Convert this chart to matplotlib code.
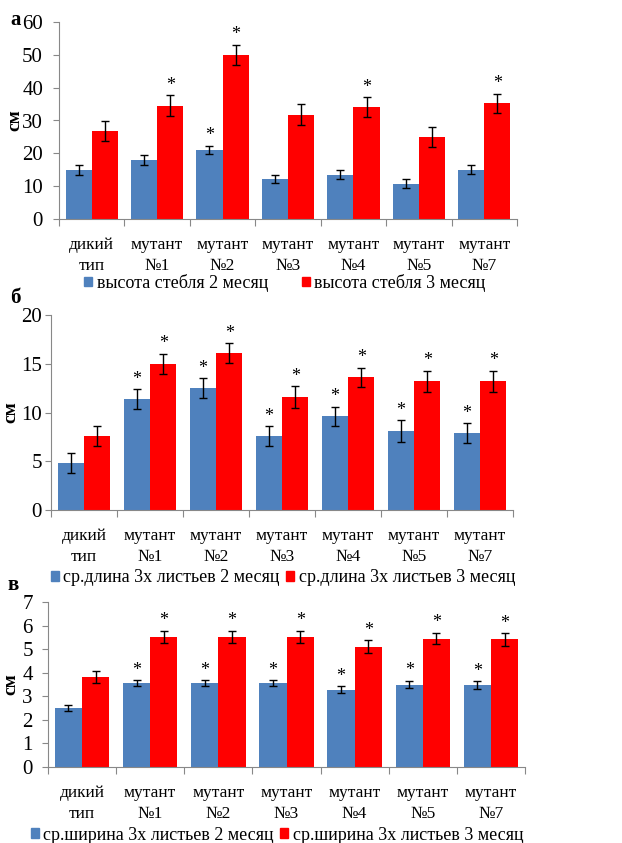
import matplotlib
matplotlib.use("Agg")
import matplotlib.pyplot as plt
import numpy as np
from matplotlib.patches import Patch

plt.rcParams['font.family'] = ['Liberation Serif', 'DejaVu Serif']

categories = ["дикий\nтип", "мутант\n№1", "мутант\n№2", "мутант\n№3", "мутант\n№4", "мутант\n№5", "мутант\n№7"]

# Panel a: stem height
a_m2 = [15.0, 18.0, 21.0, 12.2, 13.5, 10.8, 15.0]
a_m2_err = [1.5, 1.5, 1.3, 1.3, 1.3, 1.3, 1.4]
a_m3 = [26.7, 34.5, 50.0, 31.8, 34.1, 25.0, 35.2]
a_m3_err = [3.0, 3.2, 3.0, 3.2, 3.0, 3.0, 3.0]
a_m2_star = [0, 0, 1, 0, 0, 0, 0]
a_m3_star = [0, 1, 1, 0, 1, 0, 1]

# Panel b: mean length of 3 leaves
b_m2 = [4.8, 11.4, 12.5, 7.6, 9.6, 8.1, 7.9]
b_m2_err = [1.0, 1.0, 1.0, 1.0, 1.0, 1.1, 1.0]
b_m3 = [7.6, 15.0, 16.1, 11.6, 13.6, 13.2, 13.2]
b_m3_err = [1.0, 1.0, 1.0, 1.1, 1.0, 1.1, 1.1]
b_m2_star = [0, 1, 1, 1, 1, 1, 1]
b_m3_star = [0, 1, 1, 1, 1, 1, 1]

# Panel c: mean width of 3 leaves
c_m2 = [2.5, 3.55, 3.55, 3.55, 3.28, 3.5, 3.48]
c_m2_err = [0.13, 0.13, 0.13, 0.13, 0.15, 0.16, 0.15]
c_m3 = [3.82, 5.52, 5.52, 5.52, 5.1, 5.45, 5.42]
c_m3_err = [0.27, 0.27, 0.27, 0.27, 0.27, 0.25, 0.27]
c_m2_star = [0, 1, 1, 1, 1, 1, 1]
c_m3_star = [0, 1, 1, 1, 1, 1, 1]

W, H = 622, 843

panels = [
    dict(label="а", labxy=(10, 20), m2=a_m2, e2=a_m2_err, m3=a_m3, e3=a_m3_err, s2=a_m2_star, s3=a_m3_star,
         ymax=60, step=10, px=(59, 22, 517, 219), ypad=7.5, ylabx=23,
         leg=["высота стебля 2 месяц", "высота стебля 3 месяц"], legxy=(285, 283), colsp=1.85),
    dict(label="б", labxy=(10, 298), m2=b_m2, e2=b_m2_err, m3=b_m3, e3=b_m3_err, s2=b_m2_star, s3=b_m3_star,
         ymax=20, step=5, px=(51, 315, 513, 510), ypad=2.5, ylabx=19,
         leg=["ср.длина 3х листьев 2 месяц", "ср.длина 3х листьев 3 месяц"], legxy=(283, 578), colsp=0.35),
    dict(label="в", labxy=(7, 585), m2=c_m2, e2=c_m2_err, m3=c_m3, e3=c_m3_err, s2=c_m2_star, s3=c_m3_star,
         ymax=7, step=1, px=(48, 602, 525, 767), ypad=7, ylabx=19,
         leg=["ср.ширина 3х листьев 2 месяц", "ср.ширина 3х листьев 3 месяц"], legxy=(277, 835), colsp=0.35),
]

blue = "#4F81BD"
red = "#FF0000"
fig = plt.figure(figsize=(W / 100, H / 100), dpi=100)
x = np.arange(len(categories))
w = 0.4

for p in panels:
    l, t, r, b = p["px"]
    ax = fig.add_axes([l / W, 1 - b / H, (r - l) / W, (b - t) / H])
    ax.bar(x - w/2, p["m2"], w, color=blue, yerr=p["e2"], capsize=3,
           error_kw=dict(ecolor="black", elinewidth=1, capthick=1))
    ax.bar(x + w/2, p["m3"], w, color=red, yerr=p["e3"], capsize=3,
           error_kw=dict(ecolor="black", elinewidth=1, capthick=1))
    off = p["ymax"] * 0.008
    for i in range(len(categories)):
        if p["s2"][i]:
            ax.text(x[i] - w/2, p["m2"][i] + p["e2"][i] + off, "*", ha="center", va="bottom", fontsize=13)
        if p["s3"][i]:
            ax.text(x[i] + w/2, p["m3"][i] + p["e3"][i] + off, "*", ha="center", va="bottom", fontsize=13)
    ax.set_xlim(-0.5, len(categories) - 0.5)
    ax.set_ylim(0, p["ymax"])
    ax.set_yticks(np.arange(0, p["ymax"] + 0.01, p["step"]))
    ax.tick_params(axis="y", labelsize=15, length=4, color="#888888", pad=p["ypad"])
    ax.set_xticks(np.arange(-0.5, len(categories)), minor=False)
    ax.set_xticklabels([])
    ax.set_xticks(x, minor=True)
    ax.set_xticklabels(categories, minor=True, fontsize=12.5, linespacing=1.45)
    ax.tick_params(axis="x", which="major", length=5, color="#888888")
    ax.tick_params(axis="x", which="minor", length=0, pad=13)
    for s in ["top", "right"]:
        ax.spines[s].set_visible(False)
    for s in ["left", "bottom"]:
        ax.spines[s].set_color("#888888")
    ax.set_ylabel("см", fontsize=14, fontweight="bold")
    ax.yaxis.set_label_coords(p["ylabx"] / W, 1 - (t + b) / 2 / H, transform=fig.transFigure)
    fig.text(p["labxy"][0] / W, 1 - p["labxy"][1] / H, p["label"], fontsize=15,
             fontweight="bold", ha="left", va="center")
    handles = [Patch(color=blue), Patch(color=red)]
    fig.legend(handles, p["leg"], loc="center",
               bbox_to_anchor=(p["legxy"][0] / W, 1 - p["legxy"][1] / H), ncol=2,
               frameon=False, fontsize=13, handlelength=0.45, handleheight=0.45,
               handletextpad=0.25, columnspacing=p["colsp"], borderpad=0, borderaxespad=0)

fig.savefig("out.png", dpi=100, facecolor="white")
